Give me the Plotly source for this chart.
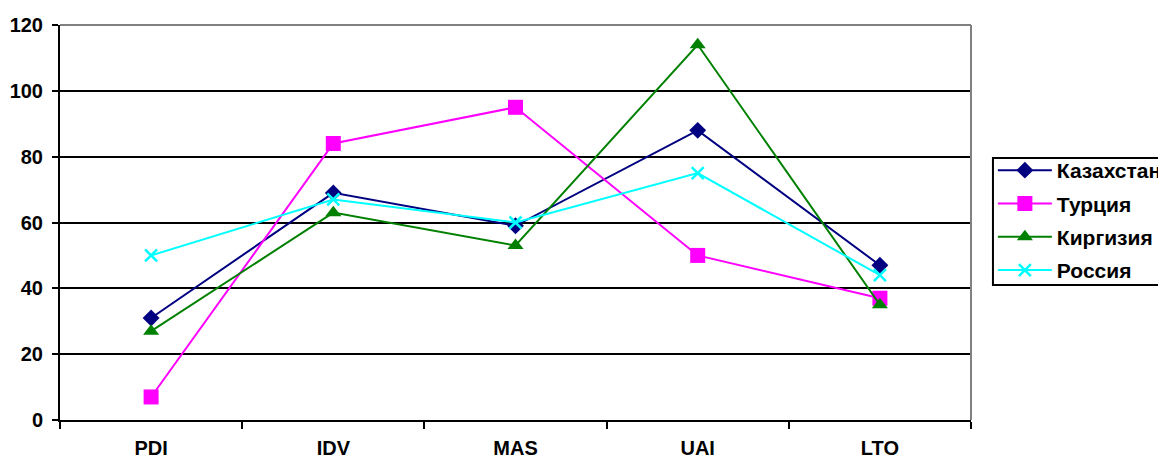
import plotly.graph_objects as go

categories = ["PDI", "IDV", "MAS", "UAI", "LTO"]
kazakhstan = [31, 69, 59, 88, 47]
turkey = [7, 84, 95, 50, 37]
kyrgyzstan = [27, 63, 53, 114, 35]
russia = [50, 67, 60, 75, 44]

series = [
    ("Казахстан", kazakhstan, "#000080", "diamond", 13),
    ("Турция", turkey, "#FF00FF", "square", 15),
    ("Киргизия", kyrgyzstan, "#008000", "triangle-up", 14),
    ("Россия", russia, "#00FFFF", "x-thin", 12),
]

FONT = "Liberation Sans, Arial, sans-serif"
FS = 20

fig = go.Figure()
for i, (name, vals, color, sym, size) in enumerate(series):
    marker = dict(symbol=sym, size=size, color=color)
    if sym == "x-thin":
        marker["line"] = dict(color=color, width=2.5)
    fig.add_trace(go.Scatter(
        x=categories, y=vals, name=name, mode="lines+markers",
        line=dict(color=color, width=2), marker=marker,
        legendgroup=f"g{i}",
    ))

# the page body has an 8px margin, so the figure is sized/offset to compensate
fig.update_layout(
    width=1158, height=451,
    margin=dict(l=52, r=195, t=17, b=39, autoexpand=False),
    paper_bgcolor="white", plot_bgcolor="white",
    font=dict(family=FONT, size=FS, color="black"),
    showlegend=True,
    legend=dict(
        x=1.024, xanchor="left", y=0.6835, yanchor="top",
        borderwidth=0, bgcolor="rgba(0,0,0,0)",
        font=dict(family=FONT, size=21, color="black", weight="bold"),
        tracegroupgap=3, itemwidth=54,
    ),
    xaxis=dict(
        type="category", tickson="boundaries", ticks="outside", ticklen=7,
        tickwidth=2, tickcolor="black", showline=True, linecolor="black",
        linewidth=2, showgrid=False, range=[-0.5, 4.5], automargin=False,
        tickfont=dict(family=FONT, size=FS, color="black", weight="bold"),
        ticklabelstandoff=9,
    ),
    yaxis=dict(
        range=[0, 120], dtick=20, ticks="outside", ticklen=6, tickwidth=2,
        tickcolor="black", showline=True, linecolor="black", linewidth=2,
        showgrid=True, gridcolor="black", gridwidth=2, zeroline=False,
        automargin=False,
        tickfont=dict(family=FONT, size=FS, color="black", weight="bold"),
        ticklabelstandoff=5,
    ),
)

# gray plot-area border on top and right
fig.add_shape(type="line", xref="paper", yref="paper", x0=0, x1=1, y0=1, y1=1,
              line=dict(color="#808080", width=2), layer="above")
fig.add_shape(type="line", xref="paper", yref="paper", x0=1, x1=1, y0=0, y1=1,
              line=dict(color="#808080", width=2), layer="above")
# legend frame (runs past the right edge, as in the original)
fig.add_shape(type="rect", xref="paper", yref="paper",
              x0=1.0241, x1=1.25, y0=0.3418, y1=0.6633,
              line=dict(color="black", width=2), layer="above")

fig.write_html("out.html")
